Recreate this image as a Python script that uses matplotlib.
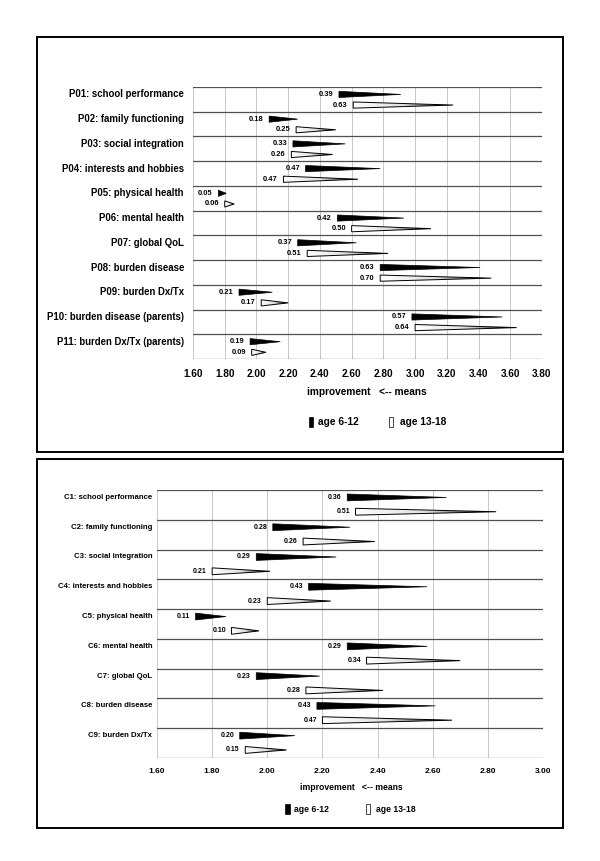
import numpy as np
import matplotlib
matplotlib.use('Agg')
import matplotlib.pyplot as plt
from matplotlib.patches import Polygon, Rectangle
from matplotlib.colors import LinearSegmentedColormap

plt.rcParams['font.family'] = ['Liberation Sans', 'DejaVu Sans']

# parents' report (P) panel
p_labels = ['P01: school performance', 'P02: family functioning', 'P03: social integration',
            'P04: interests and hobbies', 'P05: physical health', 'P06: mental health',
            'P07: global QoL', 'P08: burden disease', 'P09: burden Dx/Tx',
            'P10: burden disease (parents)', 'P11: burden Dx/Tx (parents)']
p_young_post = [2.52, 2.08, 2.23, 2.31, 1.76, 2.51, 2.26, 2.78, 1.89, 2.98, 1.96]
p_young_impr = [0.39, 0.18, 0.33, 0.47, 0.05, 0.42, 0.37, 0.63, 0.21, 0.57, 0.19]
p_old_post = [2.61, 2.25, 2.22, 2.17, 1.80, 2.60, 2.32, 2.78, 2.03, 3.00, 1.97]
p_old_impr = [0.63, 0.25, 0.26, 0.47, 0.06, 0.50, 0.51, 0.70, 0.17, 0.64, 0.09]
p_ticks = [1.6, 1.8, 2.0, 2.2, 2.4, 2.6, 2.8, 3.0, 3.2, 3.4, 3.6, 3.8]

# children's report (C) panel
c_labels = ['C1: school performance', 'C2: family functioning', 'C3: social integration',
            'C4: interests and hobbies', 'C5: physical health', 'C6: mental health',
            'C7: global QoL', 'C8: burden disease', 'C9: burden Dx/Tx']
c_young_post = [2.29, 2.02, 1.96, 2.15, 1.74, 2.29, 1.96, 2.18, 1.90]
c_young_impr = [0.36, 0.28, 0.29, 0.43, 0.11, 0.29, 0.23, 0.43, 0.20]
c_old_post = [2.32, 2.13, 1.80, 2.00, 1.87, 2.36, 2.14, 2.20, 1.92]
c_old_impr = [0.51, 0.26, 0.21, 0.23, 0.10, 0.34, 0.28, 0.47, 0.15]
c_ticks = [1.6, 1.8, 2.0, 2.2, 2.4, 2.6, 2.8, 3.0]

W, H = 600, 861
fig = plt.figure(figsize=(W / 100, H / 100), dpi=100)

grad_cmap = LinearSegmentedColormap.from_list('wg', ['#ffffff', '#e0e0e0', '#181818'])


def fx(px):
    return px / W


def fy(py):
    return 1 - py / H


def wedge(ax, x0, length, y, h, filled):
    verts = [(x0, y - h / 2), (x0, y + h / 2), (x0 + length, y)]
    if filled:
        ax.add_patch(Polygon(verts, closed=True, facecolor='black', edgecolor='black', lw=0.5, zorder=3))
    else:
        poly = Polygon(verts, closed=True, facecolor='none', edgecolor='black', lw=0.7, zorder=4)
        ax.add_patch(poly)
        grad = np.linspace(0, 1, 256).reshape(1, -1)
        im = ax.imshow(grad, cmap=grad_cmap, extent=(x0, x0 + length, y + h / 2, y - h / 2),
                       aspect='auto', zorder=3, interpolation='bilinear')
        im.set_clip_path(poly)


def panel(rect, labels, y_post, y_impr, o_post, o_impr, ticks, yb, yw, h,
          lab_fs, lab_off, val_fs, tick_fs):
    ax = fig.add_axes(rect)
    n = len(labels)
    for t in ticks[:-1]:
        ax.axvline(t, color='#c8c8c8', lw=0.7, zorder=1)
    for i in range(n + 1):
        ax.axhline(i, color='#505050', lw=0.9, zorder=2)
    for i in range(n):
        wedge(ax, y_post[i], y_impr[i], i + yb, h, True)
        wedge(ax, o_post[i], o_impr[i], i + yw, h, False)
        ax.annotate(labels[i], xy=(0, i + yb), xycoords=('axes fraction', 'data'),
                    xytext=(-lab_off, 0), textcoords='offset points', ha='right', va='center',
                    fontsize=lab_fs, fontweight='bold')
        ax.annotate('%.2f' % y_impr[i], xy=(y_post[i], i + yb), xytext=(-4, 0),
                    textcoords='offset points', ha='right', va='center',
                    fontsize=val_fs, fontweight='bold')
        ax.annotate('%.2f' % o_impr[i], xy=(o_post[i], i + yw), xytext=(-4, 0),
                    textcoords='offset points', ha='right', va='center',
                    fontsize=val_fs, fontweight='bold')
    ax.set_xlim(ticks[0], ticks[-1])
    ax.set_ylim(n, 0)
    ax.set_xticks(ticks)
    ax.set_xticklabels(['%.2f' % t for t in ticks], fontsize=tick_fs, fontweight='bold')
    ax.tick_params(axis='x', length=0, pad=7)
    ax.set_yticks([])
    for s in ax.spines.values():
        s.set_visible(False)
    return ax


ax1 = panel([fx(193), fy(359), fx(542) - fx(193), fy(87) - fy(359)],
            p_labels, p_young_post, p_young_impr, p_old_post, p_old_impr, p_ticks,
            0.3, 0.73, 0.25, 6.9, 6.5, 5.4, 7.2)
ax2 = panel([fx(157), fy(758), fx(543) - fx(157), fy(490) - fy(758)],
            c_labels, c_young_post, c_young_impr, c_old_post, c_old_impr, c_ticks,
            0.25, 0.73, 0.23, 5.6, 3.5, 5.0, 6.0)

# outer frames
fig.patches.append(Rectangle((fx(37), fy(452)), fx(563) - fx(37), fy(37) - fy(452),
                             transform=fig.transFigure, fill=False, lw=1.4, edgecolor='black'))
fig.patches.append(Rectangle((fx(37), fy(828)), fx(563) - fx(37), fy(459) - fy(828),
                             transform=fig.transFigure, fill=False, lw=1.4, edgecolor='black'))

# axis titles
fig.text(fx(367), fy(392), 'improvement   <-- means', ha='center', va='center',
         fontsize=7.3, fontweight='bold')
fig.text(fx(351), fy(787), 'improvement   <-- means', ha='center', va='center',
         fontsize=6.2, fontweight='bold')

# legends
def legend(xb, xt_b, xw, xt_w, y, fs):
    fig.patches.append(Rectangle((fx(xb), fy(y + 5)), fx(4.5), 10 / H, transform=fig.transFigure,
                                 facecolor='black', edgecolor='black', lw=0.5))
    fig.text(fx(xt_b), fy(y), 'age 6-12', ha='left', va='center', fontsize=fs, fontweight='bold')
    fig.patches.append(Rectangle((fx(xw), fy(y + 5)), fx(4.5), 10 / H, transform=fig.transFigure,
                                 facecolor='white', edgecolor='black', lw=0.5))
    fig.text(fx(xt_w), fy(y), 'age 13-18', ha='left', va='center', fontsize=fs, fontweight='bold')


legend(309, 318, 389, 400, 422, 7.3)
legend(285, 294, 366, 376, 809, 6.2)

fig.savefig('out.png', dpi=100)
